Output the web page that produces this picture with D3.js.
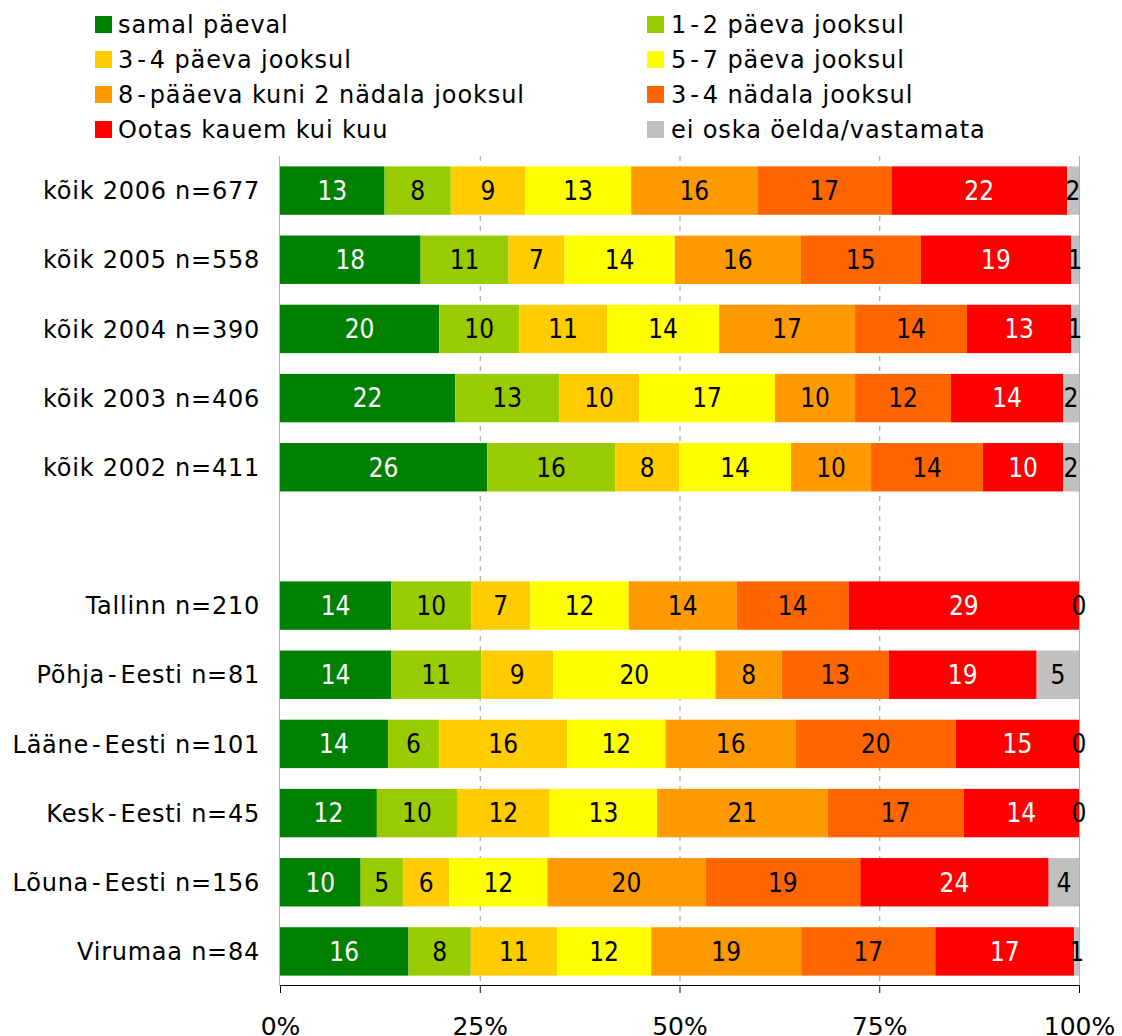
<!DOCTYPE html>
<html>
<head>
<meta charset="utf-8">
<script src="https://cdn.jsdelivr.net/npm/d3@7"></script>
<style>
  body { margin: 0; background: #fff; }
  svg { display: block; }
</style>
</head>
<body>
<div id="chart"></div>
<script>
// categories, top to bottom ("" is the empty gap row)
var categories = ["kõik 2006 n=677", "kõik 2005 n=558", "kõik 2004 n=390", "kõik 2003 n=406", "kõik 2002 n=411", "",
  "Tallinn n=210", "Põhja-Eesti n=81", "Lääne-Eesti n=101", "Kesk-Eesti n=45", "Lõuna-Eesti n=156", "Virumaa n=84"];
var rowCats = categories.filter(d => d !== "");

var seriesNames = ["samal päeval", "1-2 päeva jooksul", "3-4 päeva jooksul", "5-7 päeva jooksul",
  "8-pääeva kuni 2 nädala jooksul", "3-4 nädala jooksul", "Ootas kauem kui kuu", "ei oska öelda/vastamata"];
var colors = ["#008000", "#99cc00", "#ffcc00", "#ffff00", "#ff9900", "#ff6600", "#ff0000", "#c0c0c0"];

// percentages per series, in rowCats order
var samal   = [13.1, 17.6, 19.9, 21.9, 25.9, 13.9, 13.9, 13.5, 12.1, 10.1, 16.1];
var paev12  = [8.3, 11.0, 10.0, 13.0, 16.0, 10.0, 11.3, 6.4, 10.0, 5.3, 7.8];
var paev34  = [9.3, 7.0, 11.0, 10.0, 8.0, 7.4, 9.0, 16.0, 11.6, 5.8, 10.8];
var paev57  = [13.3, 13.8, 14.0, 17.0, 14.0, 12.3, 20.3, 12.3, 13.4, 12.3, 11.8];
var paev8   = [15.8, 15.8, 17.0, 10.0, 10.0, 13.5, 8.3, 16.3, 21.3, 19.8, 18.8];
var nadal34 = [16.8, 15.0, 14.0, 12.0, 14.0, 14.0, 13.4, 20.0, 17.0, 19.4, 16.8];
var ootas   = [22.0, 18.8, 13.0, 14.0, 10.0, 28.8, 18.5, 15.4, 14.4, 23.6, 17.4];
var eiOska  = [1.5, 1.0, 1.0, 2.0, 2.0, 0, 5.3, 0, 0, 3.8, 0.6];

var tickValues = [0, 0.25, 0.5, 0.75, 1];

// writes a label with a bit of extra room around hyphens (like the original rendering)
function spacedText(sel) {
  sel.each(function(d) {
    var t = d3.select(this);
    d.split("-").forEach(function(part, i) {
      if (i > 0) t.append("tspan").attr("dx", 3).text("-");
      t.append("tspan").attr("dx", i > 0 ? 3 : 0).text(part);
    });
  });
}

function init() {
  var w = 1122, h = 1036;
  var left = 280, right = 1079, top = 156, bottom = 986;

  var allSeries = [samal, paev12, paev34, paev57, paev8, nadal34, ootas, eiOska];
  var keys = d3.range(allSeries.length);
  var rows = rowCats.map(function(c, i) {
    var r = { cat: c };
    keys.forEach(k => r[k] = allSeries[k][i]);
    return r;
  });

  var stacked = d3.stack().keys(keys).offset(d3.stackOffsetExpand)(rows);

  var xScale = d3.scaleLinear().domain([0, 1]).range([left, right]);
  var yScale = d3.scaleBand().domain(categories).range([top, bottom])
    .paddingInner(0.3).paddingOuter(0.15);

  var svg = d3.select("#chart").append("svg")
    .attr("width", w).attr("height", h)
    .style("font-family", "'DejaVu Sans', Verdana, sans-serif");

  // gridlines
  svg.append("g").selectAll("line")
    .data([0.25, 0.5, 0.75])
    .enter().append("line")
    .attr("x1", d => xScale(d) + 0.5).attr("x2", d => xScale(d) + 0.5)
    .attr("y1", top).attr("y2", bottom)
    .attr("stroke", "#999").attr("stroke-dasharray", "5,5");

  svg.append("line")
    .attr("x1", left - 0.5).attr("x2", left - 0.5).attr("y1", top).attr("y2", bottom)
    .attr("stroke", "#b0b0b0");
  svg.append("line")
    .attr("x1", right + 0.5).attr("x2", right + 0.5).attr("y1", top).attr("y2", bottom)
    .attr("stroke", "#b0b0b0");

  // bars
  var groups = svg.append("g").selectAll("g")
    .data(stacked)
    .enter().append("g")
    .attr("fill", d => colors[d.key]);

  groups.selectAll("rect")
    .data(d => d)
    .enter().append("rect")
    .attr("x", d => xScale(d[0]))
    .attr("y", d => yScale(d.data.cat))
    .attr("width", d => xScale(d[1]) - xScale(d[0]))
    .attr("height", yScale.bandwidth());

  // value labels
  stacked.forEach(function(s) {
    svg.append("g").selectAll("text")
      .data(s)
      .enter().append("text")
      .attr("x", d => (xScale(d[0]) + xScale(d[1])) / 2)
      .attr("y", d => yScale(d.data.cat) + yScale.bandwidth() / 2)
      .attr("dy", "0.36em")
      .attr("text-anchor", "middle")
      .style("font-family", "'DejaVu Sans Condensed', 'DejaVu Sans', sans-serif")
      .style("font-size", "26px")
      .attr("fill", (s.key === 0 || s.key === 6) ? "#fff" : "#000")
      .text(d => Math.round(d.data[s.key]));
  });

  // category labels
  svg.append("g").selectAll("text")
    .data(rowCats)
    .enter().append("text")
    .attr("x", 260)
    .attr("y", d => yScale(d) + yScale.bandwidth() / 2)
    .attr("dy", "0.36em")
    .attr("text-anchor", "end")
    .style("font-size", "24px")
    .style("letter-spacing", "0.75px")
    .call(spacedText);

  // bottom axis
  var xAxis = d3.axisBottom(xScale)
    .tickValues(tickValues)
    .tickFormat(d3.format(".0%"))
    .tickSize(8)
    .tickPadding(24);

  var ax = svg.append("g")
    .attr("transform", `translate(0,${bottom - 1})`)
    .call(xAxis);
  ax.select(".domain").attr("stroke", "#000");
  ax.selectAll(".tick line").attr("stroke", "#000");
  ax.selectAll(".tick text")
    .style("font-family", "'DejaVu Sans', Verdana, sans-serif")
    .style("font-size", "25px").attr("fill", "#000");

  // legend
  var legend = svg.append("g").selectAll("g")
    .data(seriesNames)
    .enter().append("g")
    .attr("transform", (d, i) => `translate(${i % 2 === 0 ? 95 : 647},${24.5 + Math.floor(i / 2) * 35})`);

  legend.append("rect")
    .attr("x", 0).attr("y", -8.5).attr("width", 17).attr("height", 17)
    .attr("fill", (d, i) => colors[i]);

  legend.append("text")
    .attr("x", (d, i) => i % 2 === 0 ? 23 : 24).attr("y", 0).attr("dy", "0.36em")
    .style("font-size", "24px")
    .style("letter-spacing", "0.9px")
    .call(spacedText);
}

window.onload = init;
</script>
</body>
</html>
